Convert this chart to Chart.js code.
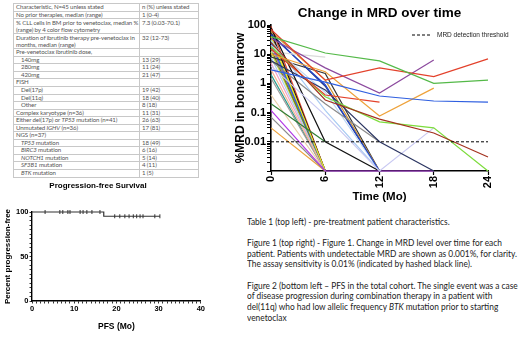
<!DOCTYPE html>
<html><head><meta charset="utf-8">
<script src="https://cdn.jsdelivr.net/npm/chart.js@4.4.1/dist/chart.umd.min.js"></script>
<style>
html,body{margin:0;padding:0;background:#fff;}
body{width:520px;height:342px;overflow:hidden;position:relative;}
#tbl{position:absolute;left:13px;top:3px;border-collapse:collapse;table-layout:fixed;width:185px;font-family:Lato,'Liberation Sans',sans-serif;font-size:6.1px;letter-spacing:-0.12px;color:#555;}
#tbl td{border:1px solid #c8c8c8;padding:0 0 0 2px;height:6.55px;line-height:6.55px;vertical-align:top;white-space:nowrap;overflow:hidden}
#tbl td.two{height:14.1px;line-height:7px}
#tbl td.ind{padding-left:7px}
#notes{position:absolute;left:247px;top:212px;width:273px;height:125px;background:#fff;font-family:Lato,'Liberation Sans',sans-serif;font-size:8.6px;color:#222;}
#notes div{position:absolute;left:0;white-space:nowrap;line-height:10.6px;transform-origin:0 0}
canvas{position:absolute}
#mrd{left:230px;top:0}
#pfs{left:-10px;top:176px}
</style></head>
<body>
<table id="tbl">
<colgroup><col style="width:126px"><col style="width:59px"></colgroup>
<tr><td>Characteristic, N=45 unless stated</td><td>n (%) unless stated</td></tr>
<tr><td>No prior therapies, median (range)</td><td>1 (0-4)</td></tr>
<tr><td class="two">% CLL cells in BM prior to venetoclax, median %<br>(range) by 4 color flow cytometry</td><td class="two">7.3 (0.03-70.1)</td></tr>
<tr><td class="two">Duration of ibrutinib therapy pre-venetoclax in<br>months, median (range)</td><td class="two">32 (12-73)</td></tr>
<tr><td>Pre-venetoclax ibrutinib dose,</td><td></td></tr>
<tr><td class="ind">140mg</td><td>13 (29)</td></tr>
<tr><td class="ind">280mg</td><td>11 (24)</td></tr>
<tr><td class="ind">420mg</td><td>21 (47)</td></tr>
<tr><td>FISH</td><td></td></tr>
<tr><td class="ind">Del(17p)</td><td>19 (42)</td></tr>
<tr><td class="ind">Del(11q)</td><td>18 (40)</td></tr>
<tr><td class="ind">Other</td><td>8 (18)</td></tr>
<tr><td>Complex karyotype (n=36)</td><td>11 (31)</td></tr>
<tr><td>Either del(17p) or <i>TP53</i> mutation (n=41)</td><td>26 (63)</td></tr>
<tr><td>Unmutated <i>IGHV</i> (n=36)</td><td>17 (81)</td></tr>
<tr><td>NGS (n=37)</td><td></td></tr>
<tr><td class="ind"><i>TP53</i> mutation</td><td>18 (49)</td></tr>
<tr><td class="ind"><i>BIRC3</i> mutation</td><td>6 (16)</td></tr>
<tr><td class="ind"><i>NOTCH1</i> mutation</td><td>5 (14)</td></tr>
<tr><td class="ind"><i>SF3B1</i> mutation</td><td>4 (11)</td></tr>
<tr><td class="ind"><i>BTK</i> mutation</td><td>1 (5)</td></tr>
</table>

<canvas id="mrd" width="290" height="210" style="width:290px;height:210px"></canvas>
<canvas id="pfs" width="216" height="166" style="width:216px;height:166px"></canvas>

<div id="notes">
<div style="top:4.5px">Table 1 (top left) - pre-treatment patient characteristics.</div>
<div style="top:26px">Figure 1 (top right) - Figure 1. Change in MRD level over time for each</div>
<div style="top:36.5px" id="longline">patient. Patients with undetectable MRD are shown as 0.001%, for clarity.</div>
<div style="top:47px">The assay sensitivity is 0.01% (indicated by hashed black line).</div>
<div style="top:68.7px">Figure 2 (bottom left – PFS in the total cohort. The single event was a case</div>
<div style="top:79.3px">of disease progression during combination therapy in a patient with</div>
<div style="top:89.9px">del(11q) who had low allelic frequency <i>BTK</i> mutation prior to starting</div>
<div style="top:100.5px">venetoclax</div>
</div>

<script>
// ---------- MRD data (months 0, 6, 12, 18, 24; %MRD, undetectable shown as 0.001) ----------
const months = [0, 6, 12, 18, 24];
const threshold = 0.01;
const mrdMajorTicks = [0.01, 0.1, 1, 10, 100];
const mrdTickLabels = ['0.01', '0.1', '1', '10', '100'];
const mrdXTicks = [0, 6, 12, 18, 24];

// longer follow-up
const ptGreen   = [40, 11, 5.9, 1.0, 1.3];
const ptRed     = [70, 1.3, 3.4, 1.7, 6.9];
const ptPurple  = [35, 3.4, 0.47, 6.3];
const ptBlue    = [2.9, 1.1, 0.37, 0.25, 0.23];
const ptOrange  = [10, 2.5, 0.076, 0.69];
const ptRed2    = [15, 0.4, 0.23];
const ptBrown   = [25, 0.27, 0.06, 0.02, 0.003];
const ptLime    = [18, 0.35, 0.048, 0.03, 0.001];
const ptNavy    = [6, 0.6, 0.01, 0.001];
const ptLavender= [4, 0.08, 0.001, 0.03];
const ptViolet  = [0.12, 0.001, 0.001, 0.001];
const ptBlack   = [80, 0.01, 0.001];
const ptDkGreen = [0.2, 0.01];
const ptGray    = [0.07, 0.001];
const ptOrange2 = [0.03, 0.001];
const ptGray2   = [6, 0.2, 0.01];
const ptLtGray  = [12, 8];
// undetectable at 12 months
const ptBlue2   = [45, 0.9, 0.001];
const ptLtBlue  = [30, 0.12, 0.001];
const ptLtBlue2 = [20, 0.5, 0.001];
const ptTan     = [60, 1.3, 0.001];
const ptDkGray  = [8, 2.2, 0.001];
const ptNavy2   = [50, 0.8, 0.001];
// undetectable at 6 months
const ptYellow  = [40, 0.001];
const ptBlue3   = [25, 0.001];
const ptGreen3  = [30, 0.001];
const ptSalmon  = [3, 0.001];
const ptOlive   = [15, 0.001];
const ptBlack2  = [60, 0.001];
const ptBrown2  = [50, 0.001];
const ptLtBlue3 = [8, 0.001];
const ptPurple2 = [20, 0.001];
const ptRed3    = [90, 0.001];
const ptBeige   = [0.4, 0.001];
const ptGray3   = [1.5, 0.001];
const ptYGreen  = [12, 0.001];
const ptPink    = [5, 0.001];
const ptTeal    = [2, 0.001];

const mrdSeries = [
  [ptGreen,'#54b948'],[ptRed,'#e3412b'],[ptPurple,'#8c4a9e'],[ptBlue,'#2f5fe0'],
  [ptOrange,'#eea23a'],[ptRed2,'#e3412b'],[ptBrown,'#a3321f'],[ptLime,'#7ddc3c'],
  [ptNavy,'#2b3561'],[ptLavender,'#c9c9f2'],[ptViolet,'#b23be6'],[ptBlack,'#111111'],
  [ptDkGreen,'#2f7d32'],[ptGray,'#8a8a8a'],[ptOrange2,'#eea23a'],[ptGray2,'#8a8a8a'],
  [ptLtGray,'#dadada'],[ptBlue2,'#1f44c8'],[ptLtBlue,'#a9cbf2'],[ptLtBlue2,'#bcd6f5'],
  [ptTan,'#d4942c'],[ptDkGray,'#333333'],[ptNavy2,'#273a8c'],[ptYellow,'#f2e41e'],
  [ptBlue3,'#2a5be8'],[ptGreen3,'#5fc43a'],[ptSalmon,'#f4b592'],[ptOlive,'#6e7d1e'],
  [ptBlack2,'#1a1a1a'],[ptBrown2,'#8c3a1a'],[ptLtBlue3,'#a9cbf2'],[ptPurple2,'#9b59b6'],
  [ptRed3,'#e3412b'],[ptBeige,'#e9cfa6'],[ptGray3,'#9a9a9a'],[ptYGreen,'#c8e03c'],
  [ptPink,'#f2a0c8'],[ptTeal,'#2a9d8f']
];

// ---------- PFS data (Kaplan-Meier corners) ----------
const pfsTimes = [0, 17, 17, 30.3];
const pfsPercent = [100, 100, 95.2, 95.2];
const censorAt100 = [3.1, 6.6, 7.3, 8.5, 9.0, 11.4, 12.1, 13, 14.2, 16.1];
const censorAt95 = [19.6, 20.8, 22, 23, 24, 24.8, 25.6, 26.3, 29.1, 30.3];
const pfsXTicks = [0, 10, 20, 30, 40];
const pfsYTicks = [0, 50, 100];

Chart.defaults.font.family = "'Liberation Sans', Arial, sans-serif";
Chart.defaults.color = '#000';
let out = '';

const mrdDatasets = [{
  data: [{x: 0, y: threshold}, {x: 24, y: threshold}],
  borderColor: '#000', borderDash: [3, 2], borderWidth: 1, pointRadius: 0, clip: 6
}].concat(mrdSeries.map(([vals, col]) => ({
  data: vals.map((v, i) => ({x: months[i], y: v})),
  borderColor: col, borderWidth: 1.2, pointRadius: 0, tension: 0, clip: 6
})));

const legendPlugin = {
  id: 'thresholdLegend',
  afterDraw(chart) {
    const {ctx, chartArea: a} = chart;
    const y = a.top + 10;
    ctx.save();
    ctx.strokeStyle = '#000'; ctx.lineWidth = 1; ctx.setLineDash([3, 2]);
    ctx.beginPath(); ctx.moveTo(a.right - 76, y); ctx.lineTo(a.right - 56, y); ctx.stroke();
    ctx.setLineDash([]);
    ctx.fillStyle = '#222'; ctx.font = "6.5px 'Liberation Sans', Arial, sans-serif";
    ctx.textBaseline = 'middle'; ctx.textAlign = 'left';
    ctx.fillText('MRD detection threshold', a.right - 51, y);
    ctx.restore();
  }
};

function logTicks(scale) {
  const t = [];
  for (let e = -3; e <= 1; e++) for (let m = 1; m <= 9; m++) t.push({value: +(m * Math.pow(10, e)).toPrecision(2)});
  t.push({value: 100});
  scale.ticks = t;
}
function pickLabel(v, majors) {
  const i = majors.findIndex(x => Math.abs(x - v) < 1e-6);
  return i >= 0 ? String(majors[i]) : '';
}

try {
new Chart(document.getElementById('mrd'), {
  type: 'line',
  data: {datasets: mrdDatasets},
  plugins: [legendPlugin],
  options: {
    responsive: false, animation: false, devicePixelRatio: 1,
    layout: {padding: {left: 0, right: 32, top: 0, bottom: 0}},
    plugins: {
      legend: {display: false}, tooltip: {enabled: false},
      title: {display: true, text: 'Change in MRD over time', fullSize: false,
        font: {size: 13.5, weight: 'bold'}, color: '#000', padding: {top: 5, bottom: 3.8}}
    },
    scales: {
      x: {
        type: 'linear', min: 0, max: 24,
        afterBuildTicks: s => { s.ticks = mrdXTicks.map(v => ({value: v})); },
        afterFit: s => { s.height = 39; },
        ticks: {minRotation: 90, maxRotation: 90, padding: 1, font: {size: 11, weight: 'bold'}, color: '#000'},
        grid: {display: true, drawOnChartArea: false, tickLength: 4, tickColor: '#000', tickWidth: 1.2},
        border: {display: true, color: '#000', width: 1.6},
        title: {display: true, text: 'Time (Mo)', font: {size: 11.5, weight: 'bold'}, color: '#000', padding: {top: 0, bottom: 6}}
      },
      y: {
        type: 'logarithmic', min: 0.001, max: 100,
        afterBuildTicks: logTicks,
        afterFit: s => { s.width = 41; },
        ticks: {autoSkip: false, padding: 1, font: {size: 11, weight: 'bold'}, color: '#000',
          callback: v => { const i = mrdMajorTicks.findIndex(x => Math.abs(Math.log10(x) - Math.log10(v)) < 1e-6); return i >= 0 ? mrdTickLabels[i] : ''; }},
        grid: {display: true, drawOnChartArea: false, tickLength: 4, tickColor: '#000', tickWidth: 1},
        border: {display: true, color: '#000', width: 1.6},
        title: {display: true, text: '%MRD in bone marrow', font: {size: 12, weight: 'bold'}, color: '#000', padding: {top: 3.5, bottom: 0}}
      }
    }
  }
});
} catch (e) { out += 'MRD ERR ' + e.message + '\n'; }

try {
const ch = new Chart(document.getElementById('pfs'), {
  type: 'line',
  data: {datasets: [
    {data: pfsTimes.map((t, i) => ({x: t, y: pfsPercent[i]})),
     borderColor: '#333', borderWidth: 1.2, pointRadius: 0, tension: 0, clip: 6},
    {data: censorAt100.map(t => ({x: t, y: 100})), showLine: false, pointStyle: 'line', rotation: 90,
     pointRadius: 2, borderColor: '#333', borderWidth: 1, clip: 4},
    {data: censorAt95.map(t => ({x: t, y: 95.2})), showLine: false, pointStyle: 'line', rotation: 90,
     pointRadius: 2, borderColor: '#333', borderWidth: 1, clip: 4}
  ]},
  options: {
    responsive: false, animation: false, devicePixelRatio: 1,
    layout: {padding: {left: 0, right: 0, top: 0, bottom: 0}},
    plugins: {
      legend: {display: false}, tooltip: {enabled: false},
      title: {display: true, text: 'Progression-free Survival', fullSize: true,
        font: {size: 8, weight: 'bold'}, color: '#000', padding: {top: 5.2, bottom: 21.2}}
    },
    scales: {
      x: {
        type: 'linear', min: 0, max: 40,
        afterBuildTicks: s => { const t = []; for (let v = 0; v <= 40; v++) t.push({value: v}); s.ticks = t; },
        afterFit: s => { s.height = 41; },
        ticks: {autoSkip: false, maxRotation: 0, padding: 1, font: {size: 7.5, weight: 'bold'}, color: '#000',
          callback: v => pickLabel(v, pfsXTicks)},
        grid: {display: true, drawOnChartArea: false, tickLength: 2.5, tickColor: '#000', tickWidth: 0.8},
        border: {display: true, color: '#000', width: 1.4},
        title: {display: true, text: 'PFS (Mo)', font: {size: 8.5, weight: 'bold'}, color: '#000', padding: {top: 0, bottom: 10}}
      },
      y: {
        type: 'linear', min: 0, max: 100,
        afterBuildTicks: s => { const t = []; for (let v = 0; v <= 100; v += 5) t.push({value: v}); s.ticks = t; },
        afterFit: s => { s.width = 42; },
        ticks: {autoSkip: false, padding: 1, font: {size: 7.5, weight: 'bold'}, color: '#000',
          callback: v => pickLabel(v, pfsYTicks)},
        grid: {display: true, drawOnChartArea: false, tickLength: 2.5, tickColor: '#000', tickWidth: 0.8},
        border: {display: true, color: '#000', width: 1.4},
        title: {display: true, text: 'Percent progression-free', font: {size: 8, weight: 'bold'}, color: '#000', padding: {top: 13.2, bottom: 0}}
      }
    }
  }
});
const y = ch.scales.y;
out += 'area ' + JSON.stringify(ch.chartArea) + ' ' + y.ticks.map(t => t.label).join('|');
} catch (e) { out += 'PFS ERR ' + e.message; }

// fit note text width to the reference block width
(function () {
  const ref = document.getElementById('longline');
  const w = ref.getBoundingClientRect().width;
  const k = 270 / w;
  document.querySelectorAll('#notes div').forEach(d => { d.style.transform = 'scaleX(' + k + ')'; });
})();
document.body.setAttribute('data-info', out);
</script>
</body></html>
